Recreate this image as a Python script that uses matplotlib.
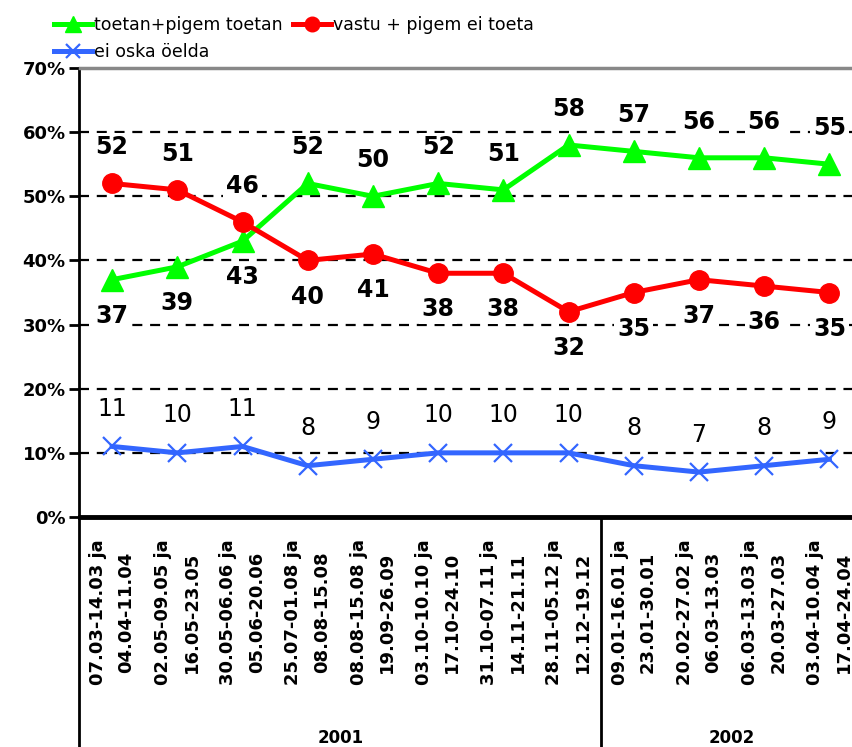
import numpy as np
import matplotlib
matplotlib.use("Agg")
import matplotlib.pyplot as plt
from matplotlib.lines import Line2D

# periods (two lines per tick) and years
periods = [
    "07.03-14.03 ja\n04.04-11.04",
    "02.05-09.05 ja\n16.05-23.05",
    "30.05-06.06 ja\n05.06-20.06",
    "25.07-01.08 ja\n08.08-15.08",
    "08.08-15.08 ja\n19.09-26.09",
    "03.10-10.10 ja\n17.10-24.10",
    "31.10-07.11 ja\n14.11-21.11",
    "28.11-05.12 ja\n12.12-19.12",
    "09.01-16.01 ja\n23.01-30.01",
    "20.02-27.02 ja\n06.03-13.03",
    "06.03-13.03 ja\n20.03-27.03",
    "03.04-10.04 ja\n17.04-24.04",
]
years = ["2001", "2002"]
year_counts = [8, 4]

toetan = [37, 39, 43, 52, 50, 52, 51, 58, 57, 56, 56, 55]
vastu = [52, 51, 46, 40, 41, 38, 38, 32, 35, 37, 36, 35]
ei_oska = [11, 10, 11, 8, 9, 10, 10, 10, 8, 7, 8, 9]

# label placement: True = above the point
toetan_above = [False, False, False] + [True] * 9
vastu_above = [True, True, True] + [False] * 9

W, H = 853, 747
fig = plt.figure(figsize=(W / 100, H / 100), dpi=100)
ax_left, ax_right, ax_top, ax_bot = 79.5, 862, 68, 517
ax = fig.add_axes([ax_left / W, 1 - ax_bot / H, (ax_right - ax_left) / W, (ax_bot - ax_top) / H])

x = np.arange(len(periods))
ax.set_xlim(-0.5, len(periods) - 0.5)
ax.set_ylim(0, 70)

# dashed gridlines
for g in range(10, 70, 10):
    ax.axhline(g, color="black", lw=1.6, ls=(0, (4.5, 3.5)), zorder=1)

l1, = ax.plot(x, toetan, color="#00ff00", lw=3.6, marker="^", ms=16, zorder=3,
              label="toetan+pigem toetan")
l2, = ax.plot(x, vastu, color="#ff0000", lw=3.6, marker="o", ms=14, zorder=3,
              label="vastu + pigem ei toeta")
l3, = ax.plot(x, ei_oska, color="#3366ff", lw=3.6, marker="x", ms=13, mew=1.6, zorder=3,
              label="ei oska öelda")

box = dict(facecolor="white", edgecolor="none", pad=2)
off = 26
for i in range(len(x)):
    ax.annotate(str(toetan[i]), (x[i], toetan[i]), xytext=(0, off if toetan_above[i] else -off),
                textcoords="offset points", ha="center", va="center", fontsize=17,
                fontweight="bold", bbox=box, zorder=5)
    ax.annotate(str(vastu[i]), (x[i], vastu[i]), xytext=(0, off if vastu_above[i] else -off),
                textcoords="offset points", ha="center", va="center", fontsize=17,
                fontweight="bold", bbox=box, zorder=5)
    ax.annotate(str(ei_oska[i]), (x[i], ei_oska[i]), xytext=(0, off + 1),
                textcoords="offset points", ha="center", va="center", fontsize=17,
                bbox=box, zorder=5)

ax.set_yticks(range(0, 71, 10))
ax.set_yticklabels([f"{v}%" for v in range(0, 71, 10)], fontsize=13, fontweight="bold")
ax.tick_params(axis="y", length=7, width=2, direction="out", pad=3)

ax.set_xticks(x)
ax.set_xticklabels(periods, rotation=90, fontsize=13, fontweight="bold",
                   ha="center", va="top", multialignment="center", linespacing=1.75)
ax.tick_params(axis="x", length=0, pad=16)

ax.spines["right"].set_visible(False)
ax.spines["top"].set_color("#888888")
ax.spines["top"].set_linewidth(2.5)
ax.spines["left"].set_linewidth(2)
ax.spines["bottom"].set_linewidth(3.5)

# extended left axis and year separator down to figure bottom
fig.add_artist(Line2D([ax_left / W, ax_left / W], [0, 1 - ax_bot / H], color="black", lw=2))
sep = ax_left + (ax_right - ax_left) * year_counts[0] / len(periods)
fig.add_artist(Line2D([sep / W, sep / W], [0, 1 - ax_bot / H], color="black", lw=2))

# year labels
start = 0
for yr, n in zip(years, year_counts):
    xc = ax_left + (ax_right - ax_left) * (start + n / 2) / len(periods)
    fig.text(xc / W, 1 - 738 / H, yr, ha="center", va="center", fontsize=12, fontweight="bold")
    start += n

fig.legend(handles=[l1, l3, l2], loc="upper left", bbox_to_anchor=(54 / W, 1 - 16 / H),
           ncol=2, frameon=False, fontsize=12.5, borderpad=0, borderaxespad=0,
           handlelength=2.2, handletextpad=0.1, columnspacing=0.6, labelspacing=0.5,
           markerscale=0.75)

fig.savefig("out.png", dpi=100)
